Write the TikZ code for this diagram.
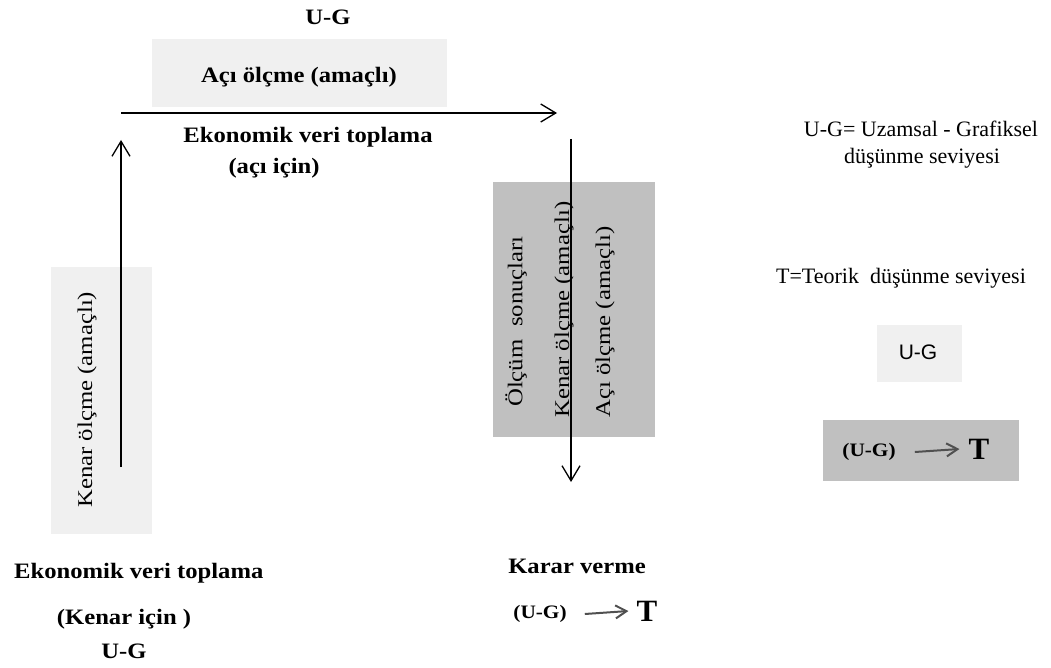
\documentclass[tikz,border=0pt]{standalone}
\usepackage{fontspec}
\setmainfont{Liberation Serif}
\newfontfamily\widefont[FakeStretch=1.12]{Liberation Serif}
\newfontfamily\rotfont[FakeStretch=1.18]{Liberation Serif}
\newfontfamily\sansfont{Liberation Sans}
\usetikzlibrary{arrows.meta}
\definecolor{lightbox}{HTML}{F0F0F0}
\definecolor{darkbox}{HTML}{C0C0C0}
\definecolor{arrowgrey}{HTML}{505050}
\begin{document}
\begin{tikzpicture}[x=1pt,y=-1pt,
  boldlbl/.style={font={\widefont\bfseries\fontsize{22}{26}\selectfont}, inner sep=0pt},
  rotlbl/.style={font={\rotfont\fontsize{21}{25}\selectfont}, inner sep=0pt, rotate=90, anchor=west},
  plainlbl/.style={font={\fontsize{22}{26}\selectfont}, inner sep=0pt},
  smalllbl/.style={font={\widefont\bfseries\fontsize{19}{22}\selectfont}, inner sep=0pt},
  biglbl/.style={font={\bfseries\fontsize{31}{34}\selectfont}, inner sep=0pt},
  lightfill/.style={fill=lightbox, inner sep=0pt},
  darkfill/.style={fill=darkbox, inner sep=0pt},
  mainarrow/.style={line width=1.3pt, -{Straight Barb[length=15pt,width=18pt,line width=1.3pt]}},
  smallarrow/.style={line width=2pt, draw=arrowgrey, -{Straight Barb[length=11pt,width=13pt,line width=2pt]}}
]
\useasboundingbox (0,0) rectangle (1051,668);

% boxes
\node[lightfill, minimum width=295pt, minimum height=68pt] (boxtop) at (299.5,73) {};
\node[lightfill, minimum width=101pt, minimum height=267pt] (boxleft) at (101.5,400.5) {};
\node[darkfill, minimum width=162pt, minimum height=255pt] (boxmid) at (574,309.5) {};
\node[lightfill, minimum width=85pt, minimum height=57pt] (boxug) at (919.5,353.5) {};
\node[darkfill, minimum width=196pt, minimum height=61pt] (boxugt) at (921,450.5) {};

% top texts
\node[boldlbl] (ugtop) at (328,17) {U-G};
\node[boldlbl] (aciolcme) at (299,77) {Açı ölçme (amaçlı)};
\node[boldlbl] (ekotop) at (308,137) {Ekonomik veri toplama};
\node[boldlbl] (acicin) at (274,168) {(açı için)};

% main arrows
\coordinate (hstart) at (121,113);
\coordinate (hend) at (557,113);
\draw[mainarrow] (hstart) -- (hend);
\coordinate (vupstart) at (121,467);
\coordinate (vupend) at (121,140);
\draw[mainarrow] (vupstart) -- (vupend);
\coordinate (vdnstart) at (571,139);
\coordinate (vdnend) at (571,482);

% rotated texts
\node[rotlbl] (kenarleft) at (87,508) {Kenar ölçme (amaçlı)};
\node[rotlbl] (olcum) at (516,407) {Ölçüm\ \ sonuçları};
\node[rotlbl] (kenarmid) at (564,418) {Kenar ölçme (amaçlı)};
\node[rotlbl] (acimid) at (605,418) {Açı ölçme (amaçlı)};
\draw[mainarrow] (vdnstart) -- (vdnend);

% bottom left
\node[boldlbl, anchor=west] (ekobot) at (14,573) {Ekonomik veri toplama};
\node[boldlbl] (kenaricin) at (124,619) {(Kenar için )};
\node[boldlbl] (ugbot) at (124,651) {U-G};

% bottom middle
\node[boldlbl] (karar) at (577,566) {Karar verme};
\node[smalllbl] (ugk) at (540,614) {(U-G)};
\node[biglbl] (tk) at (647,611) {T};
\draw[smallarrow] ([xshift=18pt]ugk.east) -- ([xshift=-8pt]tk.west);

% legend
\node[plainlbl] (leg1) at (921,129) {U-G= Uzamsal - Grafiksel};
\node[plainlbl] (leg2) at (922,158) {düşünme seviyesi};
\node[plainlbl] (leg3) at (901,278) {T=Teorik\ \ düşünme seviyesi};
\node[font={\sansfont\fontsize{21}{25}\selectfont}, inner sep=0pt] (ugbox) at (918,352) {U-G};
\node[smalllbl] (ugr) at (869,452) {(U-G)};
\node[biglbl] (tr) at (979,449) {T};
\draw[smallarrow] ([xshift=19pt]ugr.east) -- ([xshift=-9pt]tr.west);
\end{tikzpicture}
\end{document}
